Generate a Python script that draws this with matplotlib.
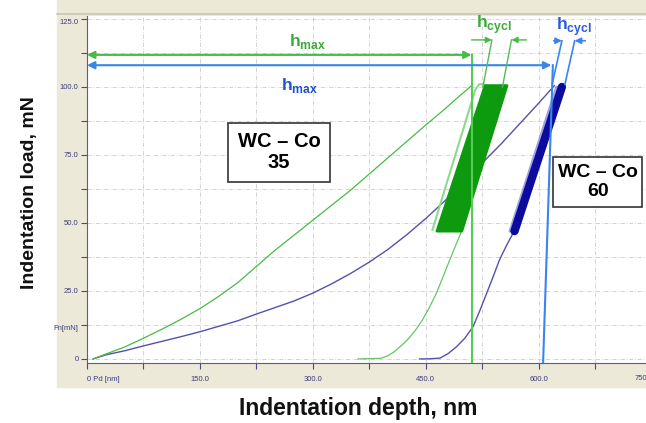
import numpy as np
import matplotlib.pyplot as plt
from matplotlib.patches import Rectangle, Polygon
from matplotlib.lines import Line2D

plt.rcParams['font.family'] = ['Liberation Sans', 'DejaVu Sans']
plt.rcParams['mathtext.fontset'] = 'custom'
plt.rcParams['mathtext.rm'] = 'Liberation Sans'
plt.rcParams['mathtext.bf'] = 'Liberation Sans:bold'

# --- data (depth in nm, load in mN) ---
green_load_depth = [8, 25, 50, 75, 100, 125, 150, 175, 200, 225, 250, 275, 300, 325,
                    350, 375, 400, 425, 450, 475, 490, 511]
green_load_force = [0, 1.8, 4.4, 7.6, 11, 14.6, 18.5, 23, 28, 34, 40, 45.5, 51, 56.5,
                    62, 68, 74, 80, 86, 91.8, 95.5, 100.5]
green_unload_depth = [497, 488, 480, 472, 464, 455, 445, 437, 429, 422, 416, 408, 400,
                      390, 360]
green_unload_force = [46.5, 40.5, 35, 29.5, 24, 19, 14, 10.8, 8, 6, 4.5, 2.6, 1.2,
                      0.2, 0]

purple_load_depth = [8, 25, 50, 75, 100, 125, 150, 175, 200, 225, 250, 275, 300, 325,
                     350, 375, 400, 425, 450, 475, 500, 525, 550, 600, 621]
purple_load_force = [0, 1.5, 3, 4.8, 6.5, 8.2, 10, 12, 14, 16.5, 18.9, 21.3, 24.2, 27.6,
                     31.4, 35.6, 40.3, 45.7, 51.6, 58, 65, 72, 79, 94, 100.5]
purple_unload_depth = [566, 557, 548, 540, 531, 522, 513, 502, 491, 480, 469, 455, 442]
purple_unload_force = [46.2, 41.5, 36.4, 30.5, 24.1, 17.8, 11.9, 7.6, 4.5, 2, 0.3,
                       0.05, 0]

# cyclic loading bands
green_band_depth = [465, 498, 558, 529]
green_band_force = [47, 47, 100.5, 100.5]
green_edge_depth = [459, 516, 521, 527]
green_edge_force = [47.5, 99, 101, 101]
blue_band_depth = [568, 631]
blue_band_force = [47, 100]
blue_halo_depth = [562, 624]
blue_halo_force = [47, 100]

# markers of h_max / h_cycl
hmax_green, hmax_green_y = 511, 111.8
hmax_blue, hmax_blue_y = 619, 108
hmax_blue_foot = 606
cycl_green_lines = [([526, 538], [100, 117.3]), ([552, 564], [100, 117.3])]
cycl_blue_lines = [([618, 631], [101, 117]), ([635, 648], [101, 117])]

x_ticks = np.arange(0, 751, 75)
x_labels = ['0 Pd [nm]', '', '150.0', '', '300.0', '', '450.0', '', '600.0', '', '']
y_ticks = np.arange(0, 126, 12.5)
y_labels = ['0', 'Fn[mN]', '25.0', '', '50.0', '', '75.0', '', '100.0', '', '125.0']

GREEN = '#46bb46'
GREEN_DARK = '#0e9a0e'
PURPLE = '#5252ae'
BLUE = '#3a84ee'
NAVY = '#0b0b9e'

fig = plt.figure(figsize=(6.46, 4.23), dpi=100)
fig.patches.append(Rectangle((0.0882, 0.0851), 0.95, 0.95, transform=fig.transFigure,
                             color='#ece9d8', zorder=-2))
fig.lines.append(Line2D([0.0882, 1], [0.968, 0.968], transform=fig.transFigure,
                        color='#c9c5b0', lw=1.2, zorder=-1))

ax = fig.add_axes([0.1347, 0.1418, 0.8854, 0.8204])
ax.set_facecolor('white')
ax.set_xlim(0, 760)
ax.set_ylim(-1.5, 126.1)

ax.set_xticks(x_ticks)
ax.set_xticklabels(x_labels)
ax.set_yticks(y_ticks)
ax.set_yticklabels(y_labels)
ax.get_xticklabels()[0].set_ha('left')
ax.get_yticklabels()[1].set_va('top')
ax.get_yticklabels()[-1].set_va('top')
ax.tick_params(direction='out', length=4, color='#4a4a8a', labelsize=5.5,
               labelcolor='#3c3c7c')
ax.tick_params(axis='x', pad=5)
ax.tick_params(axis='y', pad=2)
# the last x label sits half outside the window in the reference
ax.text(0.9685, -0.046, '750', transform=ax.transAxes, ha='center', va='center',
        fontsize=5.5, color='#3c3c7c')
for s in ['top', 'right']:
    ax.spines[s].set_visible(False)
for s in ['left', 'bottom']:
    ax.spines[s].set_color('#5a5a96')
ax.grid(True, color='#cccccc', linestyle=(0, (5, 2, 1, 2)), lw=0.6)
ax.set_axisbelow(True)

# curves
ax.plot(purple_load_depth, purple_load_force, color=PURPLE, lw=1)
ax.plot(purple_unload_depth, purple_unload_force, color=PURPLE, lw=1)
ax.plot(green_load_depth, green_load_force, color=GREEN, lw=0.9)
ax.plot(green_unload_depth, green_unload_force, color='#66c466', lw=0.9)

ax.plot(green_edge_depth, green_edge_force, color='#8fd88f', lw=1.5, zorder=3)
ax.add_patch(Polygon(list(zip(green_band_depth, green_band_force)), closed=True,
                     fc=GREEN_DARK, ec=GREEN_DARK, lw=2, joinstyle='round', zorder=3))
ax.plot(blue_halo_depth, blue_halo_force, color='#8a8ad8', lw=2, alpha=0.8,
        solid_capstyle='round', zorder=3)
ax.plot(blue_band_depth, blue_band_force, color=NAVY, lw=6, solid_capstyle='round',
        zorder=3)

# h_max
ax.plot([hmax_green, hmax_green], [-1.5, hmax_green_y], color='#55cc55', lw=1.5, zorder=4)
ax.annotate('', xy=(hmax_green, hmax_green_y), xytext=(0, hmax_green_y),
            arrowprops=dict(arrowstyle='<|-|>', color=GREEN, lw=1.5, mutation_scale=11,
                            shrinkA=0, shrinkB=0), zorder=4)
ax.plot([hmax_blue, hmax_blue_foot], [hmax_blue_y, -1.5], color=BLUE, lw=1.5, zorder=4)
ax.annotate('', xy=(hmax_blue - 2, hmax_blue_y), xytext=(0, hmax_blue_y),
            arrowprops=dict(arrowstyle='<|-|>', color=BLUE, lw=1.5, mutation_scale=11,
                            shrinkA=0, shrinkB=0), zorder=4)
ax.text(293, 116.6, r'$\mathbf{h}_{\mathbf{max}}$', color='#3aaa3a', fontsize=12.5,
        ha='center', va='center')
ax.text(283, 100.7, r'$\mathbf{h}_{\mathbf{max}}$', color='#2050d0', fontsize=12.5,
        ha='center', va='center')

# h_cycl
for xs, ys in cycl_green_lines:
    ax.plot(xs, ys, color='#55bb55', lw=1, zorder=4)
for xs, ys in cycl_blue_lines:
    ax.plot(xs, ys, color=BLUE, lw=1.2, zorder=4)
ax.annotate('', xy=(538, 117.3), xytext=(511, 117.3),
            arrowprops=dict(arrowstyle='-|>', color=GREEN, lw=1, mutation_scale=9,
                            shrinkA=0, shrinkB=0))
ax.annotate('', xy=(564, 117.3), xytext=(584, 117.3),
            arrowprops=dict(arrowstyle='-|>', color=GREEN, lw=1, mutation_scale=9,
                            shrinkA=0, shrinkB=0))
ax.annotate('', xy=(631, 117), xytext=(620, 117),
            arrowprops=dict(arrowstyle='-|>', color=BLUE, lw=1.2, mutation_scale=9,
                            shrinkA=0, shrinkB=0))
ax.annotate('', xy=(648, 117), xytext=(662, 117),
            arrowprops=dict(arrowstyle='-|>', color=BLUE, lw=1.2, mutation_scale=9,
                            shrinkA=0, shrinkB=0))
ax.text(540, 122.8, r'$\mathbf{h}_{\mathbf{cycl}}$', color='#3aaa3a', fontsize=12.5,
        ha='center', va='center')
ax.text(647, 122.4, r'$\mathbf{h}_{\mathbf{cycl}}$', color='#2a5ad8', fontsize=12.5,
        ha='center', va='center')

# sample boxes
ax.add_patch(Rectangle((187, 65), 136, 21.8, fc='white', ec='#333333', lw=1.2, zorder=5))
ax.text(255, 76, 'WC – Co\n35', ha='center', va='center', fontsize=14.5,
        fontweight='bold', linespacing=1.15, zorder=6)
ax.add_patch(Rectangle((619, 55.9), 119, 18.4, fc='white', ec='#333333', lw=1.2, zorder=5))
ax.text(679, 65.1, 'WC – Co\n60', ha='center', va='center', fontsize=14,
        fontweight='bold', linespacing=1.1, zorder=6)

fig.text(0.046, 0.545, 'Indentation load, mN', rotation=90, ha='center', va='center',
         fontsize=14, fontweight='bold', color='#111111')
fig.text(0.555, 0.035, 'Indentation depth, nm', ha='center', va='center',
         fontsize=16.5, fontweight='bold', color='#111111')

fig.savefig('out.png', dpi=100)
